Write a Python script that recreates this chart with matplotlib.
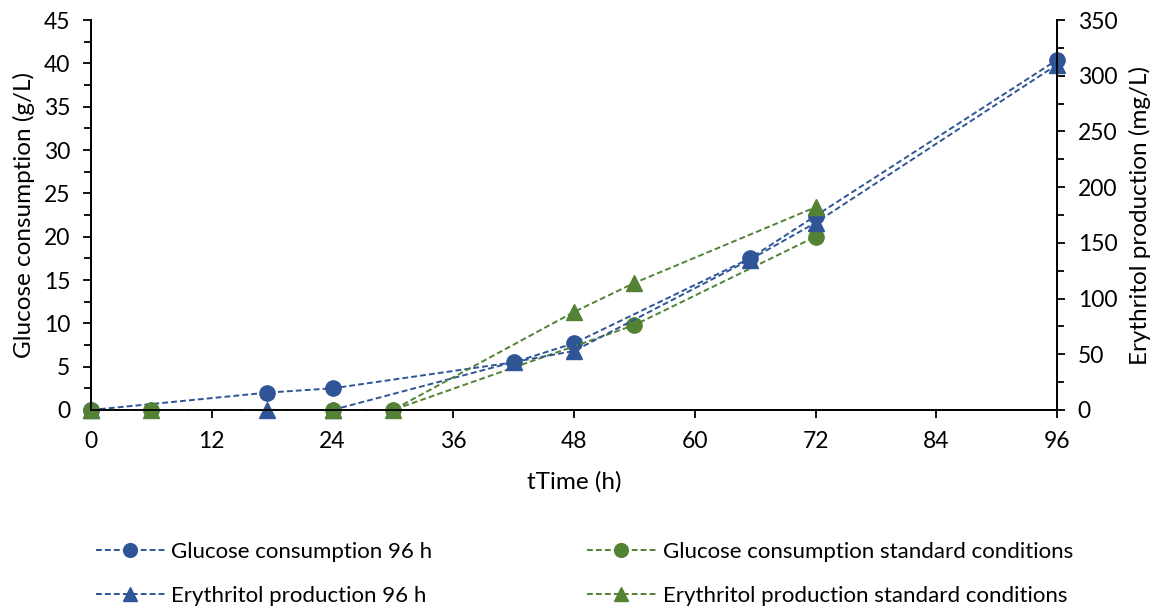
import matplotlib.pyplot as plt
from matplotlib.ticker import MultipleLocator

plt.rcParams['font.family'] = ['Lato', 'DejaVu Sans']
plt.rcParams['font.size'] = 16

blue = '#2F5597'
green = '#548235'

# 96 h run
t_96 = [0, 17.5, 24, 42, 48, 65.5, 72, 96]
glucose_96 = [0, 2.0, 2.5, 5.5, 7.7, 17.5, 22.4, 40.4]
erythritol_96 = [0, 0, 0, 43, 53, 135, 168, 310]

# standard conditions
t_std_glc = [0, 6, 24, 30, 54, 72]
glucose_std = [0, 0, 0, 0, 9.8, 20.0]
t_std_ery = [0, 6, 24, 30, 48, 54, 72]
erythritol_std = [0, 0, 0, 0, 88, 114, 182]

x_ticks = [0, 12, 24, 36, 48, 60, 72, 84, 96]

fig = plt.figure(figsize=(11.58, 6.08), dpi=100)
ax1 = fig.add_axes([0.0786, 0.3257, 0.8342, 0.6413])
ax2 = ax1.twinx()

dash = (0, (3, 1.6))
kw = dict(linestyle=dash, linewidth=1.4, markersize=11, clip_on=False)

l1, = ax1.plot(t_96, glucose_96, color=blue, marker='o', label='Glucose consumption 96 h', **kw)
l3, = ax1.plot(t_std_glc, glucose_std, color=green, marker='o',
               label='Glucose consumption standard conditions', **kw)
l2, = ax2.plot(t_96, erythritol_96, color=blue, marker='^', label='Erythritol production 96 h', **kw)
l4, = ax2.plot(t_std_ery, erythritol_std, color=green, marker='^',
               label='Erythritol production standard conditions', **kw)

ax1.set_xlim(0, 96)
ax1.set_xticks(x_ticks)
ax1.set_ylim(0, 45)
ax1.yaxis.set_major_locator(MultipleLocator(5))
ax1.yaxis.set_minor_locator(MultipleLocator(2.5))
ax2.set_ylim(0, 350)
ax2.yaxis.set_major_locator(MultipleLocator(50))
ax2.yaxis.set_minor_locator(MultipleLocator(25))

for ax in (ax1, ax2):
    ax.spines['top'].set_visible(False)
    for s in ax.spines.values():
        s.set_linewidth(1.3)
    ax.tick_params(which='major', direction='out', length=6, width=1.3, labelsize=16.5)
    ax.tick_params(which='minor', direction='out', length=5, width=1.3)
    ax.tick_params(axis='y', which='major', pad=9)
    ax.set_facecolor('none')
ax1.tick_params(axis='x', pad=9)

ax1.set_xlabel('tTime (h)', fontsize=17.5, labelpad=14)
ax1.set_ylabel('Glucose consumption (g/L)', fontsize=17.5, labelpad=6)
ax2.set_ylabel('Erythritol production (mg/L)', fontsize=17.5, labelpad=8)

fig.legend(handles=[l1, l2, l3, l4], loc='upper left', bbox_to_anchor=(0.0655, 0.141),
           ncol=2, frameon=False, fontsize=16, handlelength=3.1, handletextpad=0.3,
           columnspacing=6.95, labelspacing=1.05, markerscale=0.9)

fig.savefig('out.png', dpi=100)
